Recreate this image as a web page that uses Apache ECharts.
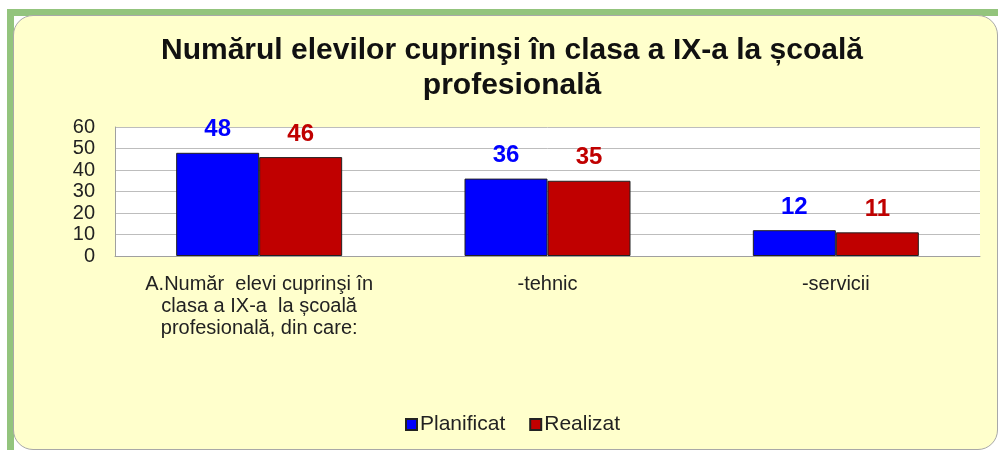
<!DOCTYPE html>
<html>
<head>
<meta charset="utf-8">
<script src="https://cdn.jsdelivr.net/npm/echarts@6/dist/echarts.min.js"></script>
<style>
  html, body { margin: 0; padding: 0; background: #ffffff; }
  #stripTop { position: absolute; left: 7px; top: 9px; width: 991px; height: 7px; background: #93c47d; }
  #stripLeft { position: absolute; left: 7px; top: 9px; width: 7px; height: 441px; background: #93c47d; }
  #panel { position: absolute; left: 13px; top: 15px; width: 985px; height: 435px; background: #ffffcc;
           border: 1px solid #a8a8a8; border-radius: 20px; box-sizing: border-box; }
  #chart { position: absolute; left: 0; top: 0; width: 998px; height: 450px; }
</style>
</head>
<body>
<div id="stripTop"></div>
<div id="stripLeft"></div>
<div id="panel"></div>
<div id="chart"></div>
<script>
// Categories and values
const categories = [
  'A.Număr  elevi cuprinşi în\nclasa a IX-a  la școală\nprofesională, din care:',
  '-tehnic',
  '-servicii'
];
const planificat = [48, 36, 12];
const realizat = [46, 35, 11];
const yTicks = { min: 0, max: 60, interval: 10 };

const chart = echarts.init(document.getElementById('chart'), null, { renderer: 'canvas' });
const font = 'Liberation Sans, Arial, sans-serif';

chart.setOption({
  backgroundColor: 'transparent',
  animation: false,
  title: {
    text: 'Numărul elevilor cuprinşi în clasa a IX-a la școală\nprofesională',
    left: 507,
    top: 28,
    textAlign: 'center',
    textStyle: { fontFamily: font, fontSize: 30, fontWeight: 'bold', color: '#111', lineHeight: 35 }
  },
  legend: {
    data: ['Planificat', 'Realizat'],
    left: 400,
    top: 409,
    itemWidth: 11,
    itemHeight: 11,
    itemGap: 24,
    icon: 'rect',
    textStyle: { fontFamily: font, fontSize: 21, color: '#222', padding: [0, 0, 0, -2] }
  },
  grid: {
    left: 115, right: 18, top: 127, bottom: 194,
    show: true, backgroundColor: '#ffffff', borderWidth: 0
  },
  xAxis: {
    type: 'category',
    data: categories,
    axisTick: { show: false },
    axisLine: { lineStyle: { color: '#a0a0a0', width: 1 } },
    axisLabel: { fontFamily: font, fontSize: 20, color: '#222', lineHeight: 22, margin: 17, interval: 0 }
  },
  yAxis: {
    type: 'value',
    min: yTicks.min, max: yTicks.max, interval: yTicks.interval,
    axisLine: { show: true, lineStyle: { color: '#a0a0a0' } },
    axisTick: { show: false },
    splitLine: { lineStyle: { color: '#bdbdbd', width: 1 } },
    axisLabel: { fontFamily: font, fontSize: 20, color: '#222', margin: 20 }
  },
  series: [
    {
      name: 'Planificat', type: 'bar', data: planificat,
      barWidth: 83, barGap: '0%',
      itemStyle: { color: '#0000ff', borderColor: '#222', borderWidth: 1 },
      label: { show: true, position: 'top', distance: 11, fontFamily: font, fontSize: 24, fontWeight: 'bold', color: '#0000ff' }
    },
    {
      name: 'Realizat', type: 'bar', data: realizat,
      barWidth: 83,
      itemStyle: { color: '#c00000', borderColor: '#222', borderWidth: 1 },
      label: { show: true, position: 'top', distance: 11, fontFamily: font, fontSize: 24, fontWeight: 'bold', color: '#c00000' }
    }
  ]
});
</script>
</body>
</html>
